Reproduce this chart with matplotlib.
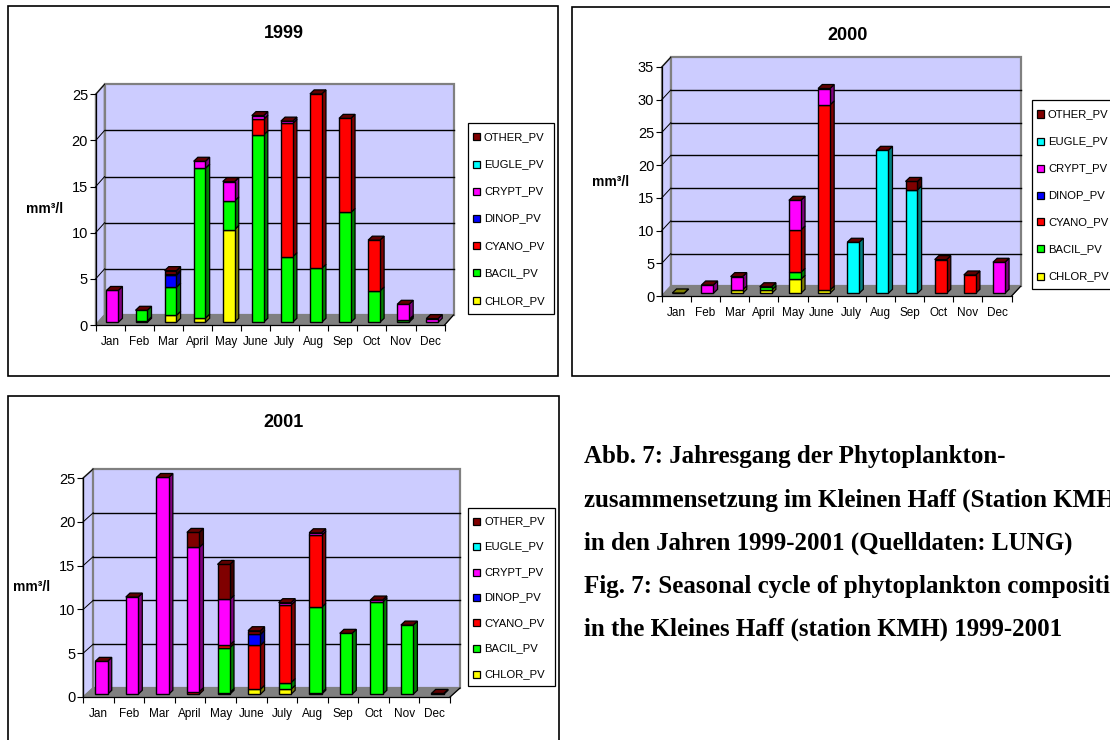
#!/usr/bin/env python3
"""Seasonal phytoplankton composition 1999-2001, three pseudo-3D stacked bar panels."""
import numpy as np
import matplotlib
matplotlib.use('Agg')
import matplotlib.pyplot as plt
from matplotlib.patches import Polygon, Rectangle

W, H = 1110, 740
plt.rcParams['font.family'] = ['Liberation Sans', 'DejaVu Sans']

months = ['Jan', 'Feb', 'Mar', 'April', 'May', 'June', 'July', 'Aug', 'Sep', 'Oct', 'Nov', 'Dec']
series = ['CHLOR_PV', 'BACIL_PV', 'CYANO_PV', 'DINOP_PV', 'CRYPT_PV', 'EUGLE_PV', 'OTHER_PV']
front = ['#FFFF00', '#00FF00', '#FF0000', '#0000FF', '#FF00FF', '#00FFFF', '#800000']
shade = ['#808000', '#008000', '#800000', '#000080', '#800080', '#008080', '#400000']

# 1999 values, mm3/l
chlor_99 = [0, 0.15, 0.75, 0.45, 10.05, 0, 0, 0, 0, 0, 0, 0]
bacil_99 = [0, 1.15, 3.05, 16.25, 3.1, 20.3, 7.1, 5.85, 11.9, 3.4, 0.2, 0]
cyano_99 = [0, 0, 0, 0, 0, 1.7, 14.45, 18.9, 10.2, 5.5, 0.1, 0]
dinop_99 = [0, 0, 1.3, 0, 0, 0, 0, 0, 0, 0, 0, 0]
crypt_99 = [3.45, 0, 0.1, 0.75, 2.1, 0.4, 0.25, 0, 0, 0, 1.65, 0.4]
eugle_99 = [0, 0, 0, 0, 0, 0, 0, 0, 0, 0, 0, 0]
other_99 = [0, 0, 0.4, 0, 0, 0, 0, 0, 0, 0, 0, 0]

# 2000 values
chlor_00 = [0.05, 0, 0.5, 0.5, 2.14, 0.5, 0, 0, 0, 0, 0, 0]
bacil_00 = [0, 0, 0, 0.5, 1.06, 0, 0, 0, 0, 0, 0, 0]
cyano_00 = [0, 0, 0, 0, 6.48, 28.3, 0, 0, 0, 5.15, 2.8, 0]
dinop_00 = [0, 0, 0, 0, 0, 0, 0, 0, 0, 0, 0, 0]
crypt_00 = [0, 1.27, 2.05, 0, 4.53, 2.5, 0, 0, 0, 0, 0, 4.74]
eugle_00 = [0, 0, 0, 0, 0, 0, 7.8, 21.85, 15.8, 0, 0, 0]
other_00 = [np.nan, 0, 0, 0, 0, 0, 0, 0, 1.3, 0, 0, 0]

# 2001 values
chlor_01 = [0, 0, 0, 0, 0.2, 0.57, 0.57, 0.15, 0, 0, 0, 0]
bacil_01 = [0, 0, 0, 0, 5.12, 0, 0.76, 9.77, 6.96, 10.53, 7.9, 0]
cyano_01 = [0, 0, 0, 0.3, 0.31, 5.02, 8.86, 8.22, 0, 0, 0, 0]
dinop_01 = [0, 0, 0, 0, 0, 1.25, 0, 0, 0, 0, 0, 0]
crypt_01 = [3.76, 11.1, 24.75, 16.47, 5.21, 0, 0.27, 0.3, 0, 0.23, 0, 0]
eugle_01 = [0, 0, 0, 0, 0, 0, 0, 0, 0, 0, 0, 0]
other_01 = [0, 0, 0, 1.71, 3.99, 0.42, 0, 0, 0, 0, 0, 0.1]


def fx(x):
    return x / W


def fy(y):
    return 1 - y / H


def frame(fig, x0, y0, x1, y1):
    fig.add_artist(Rectangle((fx(x0), fy(y1)), (x1 - x0) / W, (y1 - y0) / H, fc='white',
                             ec='black', lw=1.2, transform=fig.transFigure, zorder=-5))


def legend(fig, box, rows, mark_x, text_x):
    x0, y0, x1, y1 = box
    fig.add_artist(Rectangle((fx(x0), fy(y1)), (x1 - x0) / W, (y1 - y0) / H, fc='white',
                             ec='black', lw=0.9, transform=fig.transFigure, zorder=3))
    # rows run from OTHER at the top down to CHLOR
    for i, y in enumerate(rows):
        k = len(series) - 1 - i
        fig.add_artist(Rectangle((fx(mark_x), fy(y + 3.5)), 7 / W, 7 / H, fc=front[k], ec='black',
                                 lw=0.9, transform=fig.transFigure, zorder=4))
        fig.text(fx(text_x), fy(y), series[k], fontsize=8.1, va='center', ha='left', zorder=4)


def panel(fig, stacks, ymax, xr, yr, depth, base, bar_px, title_xy, unit_xy, ticks):
    x0, x1 = xr
    y0, ytop = yr
    ax = fig.add_axes([fx(x0), fy(y0), (x1 - x0) / W, (y0 - ytop) / H], zorder=2)
    ax.set_xlim(0, 12)
    ax.set_ylim(0, ymax)
    ax.patch.set_visible(False)

    px_x = 12 / (x1 - x0)
    px_y = ymax / (y0 - ytop)
    dx = depth[0] * px_x
    dy = depth[1] * px_y

    # walls and floor
    ax.add_patch(Polygon([(0, 0), (dx, dy), (dx, ymax + dy), (0, ymax)], fc='#CCCCFF', ec='#808080',
                         lw=1.3, clip_on=False, zorder=0))
    ax.add_patch(Rectangle((dx, dy), 12, ymax, fc='#CCCCFF', ec='#808080', lw=1.6,
                           clip_on=False, zorder=0))
    ax.add_patch(Polygon([(0, 0), (dx, dy), (12 + dx, dy), (12, 0)], fc='#808080', ec='#808080',
                         lw=0.8, clip_on=False, zorder=0.5))
    for v in ticks[1:-1]:
        ax.plot([dx, 12 + dx], [v + dy, v + dy], color='black', lw=1.0, clip_on=False, zorder=1)
    for v in ticks[1:]:
        ax.plot([0, dx], [v, v + dy], color='black', lw=0.7, clip_on=False, zorder=1)
    ax.plot([12, 12 + dx], [0, dy], color='black', lw=0.9, clip_on=False, zorder=1)

    # stacked bars, with side faces and a cap offset in pixels
    sx = base[0] * px_x
    sy = base[1] * px_y
    bw = bar_px * px_x
    ox = 4.2 * px_x
    oy = 4.0 * px_y
    for m in range(12):
        left = m + 0.5 + sx - bw / 2
        bottom = sy
        cap = None
        for k, vals in enumerate(stacks):
            v = vals[m]
            if np.isnan(v):
                continue
            cap = k
            if v == 0:
                continue
            ax.add_patch(Polygon([(left + bw, bottom), (left + bw + ox, bottom + oy),
                                  (left + bw + ox, bottom + v + oy), (left + bw, bottom + v)],
                                 fc=shade[k], ec='black', lw=0.9, clip_on=False, zorder=3))
            ax.bar(left, v, width=bw, bottom=bottom, align='edge', color=front[k], edgecolor='black',
                   linewidth=1.0, clip_on=False, zorder=4)
            bottom += v
        # missing OTHER value leaves the cap in the colour of the last filled series
        if np.isnan(stacks[-1][m]):
            cap = max(k for k in range(len(stacks) - 1) if stacks[k][m] > 0)
        ax.add_patch(Polygon([(left, bottom), (left + ox, bottom + oy), (left + bw + ox, bottom + oy),
                              (left + bw, bottom)], fc='#600000' if cap == 6 else shade[cap],
                             ec='black', lw=0.9, clip_on=False, zorder=5))

    for s in ['top', 'right']:
        ax.spines[s].set_visible(False)
    for s in ['left', 'bottom']:
        ax.spines[s].set_linewidth(0.9)
        ax.spines[s].set_zorder(6)
    ax.set_yticks(ticks)
    ax.tick_params(axis='y', labelsize=10.5, length=4, width=0.8, pad=1.5)
    ax.set_xticks(range(13))
    ax.set_xticklabels([])
    ax.tick_params(axis='x', which='major', length=4, width=0.8)
    ax.set_xticks(np.arange(12) + 0.5, minor=True)
    ax.set_xticklabels(months, minor=True, fontsize=8.5)
    ax.tick_params(axis='x', which='minor', length=0, pad=8)

    fig.text(fx(title_xy[0]), fy(title_xy[1]), title_xy[2], fontsize=13, fontweight='bold',
             ha='center', va='center')
    fig.text(fx(unit_xy[0]), fy(unit_xy[1]), 'mm³/l', fontsize=10, fontweight='bold',
             ha='center', va='center')


def main():
    fig = plt.figure(figsize=(W / 100, H / 100), dpi=100, facecolor='white')

    frame(fig, 8, 6, 558, 376)
    frame(fig, 572, 7, 1125, 376)
    frame(fig, 8, 396, 559, 760)

    panel(fig, [chlor_99, bacil_99, cyano_99, dinop_99, crypt_99, eugle_99, other_99], 25,
          (95.7, 444.6), (325, 94.3), (8.9, 10.0), (2.1, 2.7), 11.8,
          (284, 34, '1999'), (44.6, 209), [0, 5, 10, 15, 20, 25])
    legend(fig, (468, 123, 554, 314), [136.7, 164, 191, 218, 245.7, 272.7, 300.7], 472.5, 484)

    panel(fig, [chlor_00, bacil_00, cyano_00, dinop_00, crypt_00, eugle_00, other_00], 35,
          (661.8, 1011.6), (296, 67), (9.0, 9.7), (1.9, 2.7), 11.9,
          (847.6, 35, '2000'), (610.9, 181.7), [0, 5, 10, 15, 20, 25, 30, 35])
    legend(fig, (1032, 100, 1125, 289), [114, 141, 168, 195, 221.7, 248.7, 276], 1036.5, 1048)

    panel(fig, [chlor_01, bacil_01, cyano_01, dinop_01, crypt_01, eugle_01, other_01], 25,
          (83.2, 450), (697, 478), (10.0, 9.0), (2.9, 2.7), 12.3,
          (283, 422.7, '2001'), (32, 587.3), [0, 5, 10, 15, 20, 25])
    legend(fig, (468, 508, 554.5, 686), [521.3, 546, 572, 597, 622.7, 648, 674], 472.5, 484.6)

    caption = ['Abb. 7: Jahresgang der Phytoplankton-',
               'zusammensetzung im Kleinen Haff (Station KMH)',
               'in den Jahren 1999-2001 (Quelldaten: LUNG)',
               'Fig. 7: Seasonal cycle of phytoplankton composition',
               'in the Kleines Haff (station KMH) 1999-2001']
    for line, y in zip(caption, [457, 500, 543, 586, 629]):
        fig.text(fx(584), fy(y), line, fontsize=18, fontweight='bold', family='Liberation Serif',
                 ha='left', va='center')

    fig.savefig('out.png', dpi=100)
    plt.close(fig)


if __name__ == '__main__':
    main()
